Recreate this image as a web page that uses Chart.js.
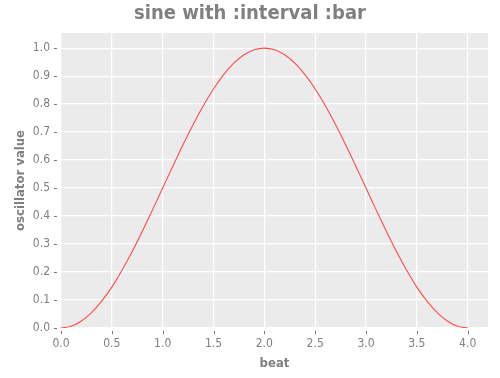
<!DOCTYPE html>
<html>
<head>
<meta charset="utf-8">
<script src="https://cdn.jsdelivr.net/npm/chart.js@4"></script>
<style>
  html, body { margin: 0; padding: 0; background: #fff; }
  #wrap { width: 500px; height: 378px; }
</style>
</head>
<body>
<div id="wrap"><canvas id="chart"></canvas></div>
<script>
// ── Data ──────────────────────────────────────────────────────────────────────
const beats = [
  0.0, 0.1, 0.2, 0.3, 0.4, 0.5, 0.6, 0.7, 0.8, 0.9,
  1.0, 1.1, 1.2, 1.3, 1.4, 1.5, 1.6, 1.7, 1.8, 1.9,
  2.0, 2.1, 2.2, 2.3, 2.4, 2.5, 2.6, 2.7, 2.8, 2.9,
  3.0, 3.1, 3.2, 3.3, 3.4, 3.5, 3.6, 3.7, 3.8, 3.9, 4.0,
];
const oscValues = [
  0.000, 0.006, 0.025, 0.055, 0.096, 0.146, 0.206, 0.273, 0.346, 0.422,
  0.500, 0.578, 0.655, 0.727, 0.794, 0.854, 0.905, 0.946, 0.976, 0.994,
  1.000, 0.994, 0.976, 0.946, 0.905, 0.854, 0.794, 0.727, 0.655, 0.578,
  0.500, 0.422, 0.346, 0.273, 0.206, 0.146, 0.096, 0.055, 0.025, 0.006, 0.000,
];

// ── Colours / fonts ───────────────────────────────────────────────────────────
const TEXT = "#808080";
const TICK_MARK = "#777777";
const PANEL = "#ebebeb";
const FONT = "'DejaVu Sans Condensed', 'DejaVu Sans', sans-serif";

// grey panel behind the plot area + short tick marks detached from the panel
const panelPlugin = {
  id: "panel",
  beforeDraw(chart) {
    const { ctx, chartArea: a } = chart;
    ctx.save();
    ctx.fillStyle = PANEL;
    ctx.fillRect(a.left, a.top, a.right - a.left, a.bottom - a.top);
    ctx.restore();
  },
  afterDraw(chart) {
    const { ctx, chartArea: a, scales } = chart;
    ctx.save();
    ctx.strokeStyle = TICK_MARK;
    ctx.lineWidth = 1;
    ctx.beginPath();
    scales.x.ticks.forEach(t => {
      const px = Math.round(scales.x.getPixelForValue(t.value)) + 0.5;
      ctx.moveTo(px, a.bottom + 3);
      ctx.lineTo(px, a.bottom + 6);
    });
    scales.y.ticks.forEach(t => {
      const py = Math.round(scales.y.getPixelForValue(t.value)) + 0.5;
      ctx.moveTo(a.left - 7, py);
      ctx.lineTo(a.left - 4, py);
    });
    ctx.stroke();
    ctx.restore();
  },
};

new Chart(document.getElementById("chart"), {
  type: "line",
  data: {
    labels: beats,
    datasets: [{
      data: beats.map((b, i) => ({ x: b, y: oscValues[i] })),
      borderColor: "#ff4a4a",
      borderWidth: 1.1,
      pointRadius: 0,
      tension: 0.3,
      fill: false,
    }],
  },
  options: {
    responsive: true,
    maintainAspectRatio: false,
    animation: false,
    layout: { padding: 0 },
    plugins: {
      legend: { display: false },
      tooltip: { enabled: false },
      title: {
        display: true,
        text: "sine with :interval :bar",
        color: TEXT,
        font: { family: FONT, size: 20, weight: "bold" },
        padding: { top: 2, bottom: 7 },
      },
    },
    scales: {
      x: {
        type: "linear",
        min: 0,
        max: 4.2,
        afterFit: s => { s.height = 50; },
        ticks: {
          stepSize: 0.5,
          includeBounds: false,
          color: TEXT,
          padding: 9,
          font: { family: FONT, size: 12 },
          callback: v => v.toFixed(1),
        },
        grid: { color: "#ffffff", lineWidth: 1.2, drawTicks: false },
        border: { display: false },
        title: {
          display: true,
          text: "beat",
          color: TEXT,
          font: { family: FONT, size: 13, weight: "bold" },
          padding: { top: 0, bottom: 7 },
        },
      },
      y: {
        min: 0,
        max: 1.054,
        afterFit: s => { s.width = 61; },
        ticks: {
          stepSize: 0.1,
          includeBounds: false,
          color: TEXT,
          padding: 11,
          font: { family: FONT, size: 12 },
          callback: v => v.toFixed(1),
        },
        grid: { color: "#ffffff", lineWidth: 1.2, drawTicks: false },
        border: { display: false },
        title: {
          display: true,
          text: "oscillator value",
          color: TEXT,
          font: { family: FONT, size: 13, weight: "bold" },
          padding: { top: 13, bottom: 0 },
        },
      },
      // empty strip on the right so the title centres over the whole canvas
      yRight: {
        position: "right",
        min: 0,
        max: 1,
        afterFit: s => { s.width = 12; },
        ticks: { display: false },
        grid: { display: false, drawOnChartArea: false, drawTicks: false },
        border: { display: false },
      },
    },
  },
  plugins: [panelPlugin],
});
</script>
</body>
</html>
